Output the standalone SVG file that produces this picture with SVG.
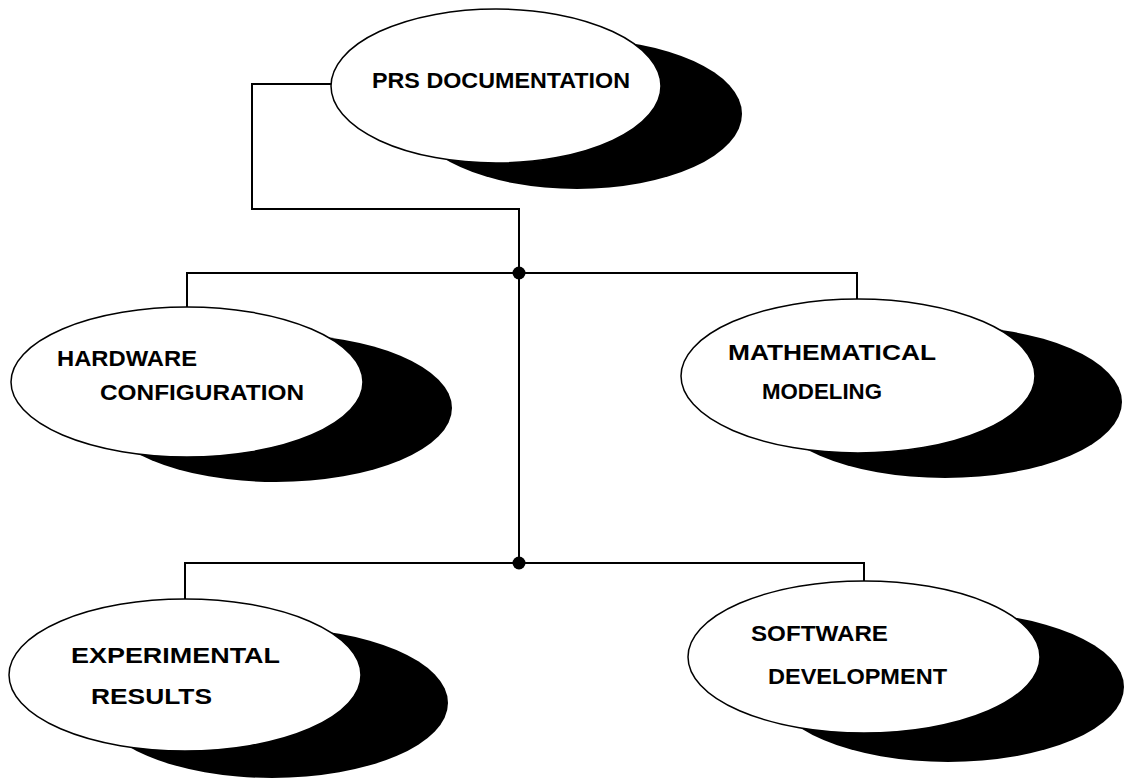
<svg xmlns="http://www.w3.org/2000/svg" width="1124" height="779" viewBox="0 0 1124 779">
<style>
.shadow{fill:#000}
.face{fill:#fff;stroke:#000;stroke-width:1.5}
.conn{fill:none;stroke:#000;stroke-width:2}
.dot{fill:#000}
.lbl{font-family:"Liberation Sans",Arial,sans-serif;font-weight:bold;font-size:22px;fill:#000}
</style>
<rect width="1124" height="779" fill="#fff"/>
<g id="connectors">
<polyline class="conn" points="331,84 252,84 252,209 519,209 519,563"/>
<polyline class="conn" points="187,307 187,273 857,273 857,299"/>
<polyline class="conn" points="185,600 185,563 864,563 864,583"/>
<circle class="dot" cx="519" cy="273" r="6.5"/>
<circle class="dot" cx="519" cy="563" r="6.5"/>
</g>
<g id="prs">
<ellipse class="shadow" cx="577" cy="114" rx="165" ry="75"/>
<ellipse class="face" cx="496" cy="86" rx="165" ry="77"/>
<text class="lbl" x="372" y="88" textLength="258" lengthAdjust="spacingAndGlyphs">PRS DOCUMENTATION</text>
</g>
<g id="hardware">
<ellipse class="shadow" cx="276" cy="408" rx="176" ry="74"/>
<ellipse class="face" cx="187" cy="382" rx="176" ry="75"/>
<text class="lbl" x="57" y="366" textLength="140" lengthAdjust="spacingAndGlyphs">HARDWARE</text>
<text class="lbl" x="100" y="400" textLength="204" lengthAdjust="spacingAndGlyphs">CONFIGURATION</text>
</g>
<g id="mathematical">
<ellipse class="shadow" cx="945" cy="402" rx="177" ry="76"/>
<ellipse class="face" cx="858" cy="376" rx="177" ry="77"/>
<text class="lbl" x="728" y="360" textLength="208" lengthAdjust="spacingAndGlyphs">MATHEMATICAL</text>
<text class="lbl" x="762" y="399" textLength="120" lengthAdjust="spacingAndGlyphs">MODELING</text>
</g>
<g id="experimental">
<ellipse class="shadow" cx="272" cy="703" rx="176" ry="75"/>
<ellipse class="face" cx="185" cy="675" rx="176" ry="76"/>
<text class="lbl" x="71" y="663" textLength="209" lengthAdjust="spacingAndGlyphs">EXPERIMENTAL</text>
<text class="lbl" x="91" y="704" textLength="121" lengthAdjust="spacingAndGlyphs">RESULTS</text>
</g>
<g id="software">
<ellipse class="shadow" cx="948" cy="687" rx="176" ry="75"/>
<ellipse class="face" cx="864" cy="657" rx="176" ry="76"/>
<text class="lbl" x="751" y="641" textLength="137" lengthAdjust="spacingAndGlyphs">SOFTWARE</text>
<text class="lbl" x="768" y="684" textLength="179" lengthAdjust="spacingAndGlyphs">DEVELOPMENT</text>
</g>
</svg>
